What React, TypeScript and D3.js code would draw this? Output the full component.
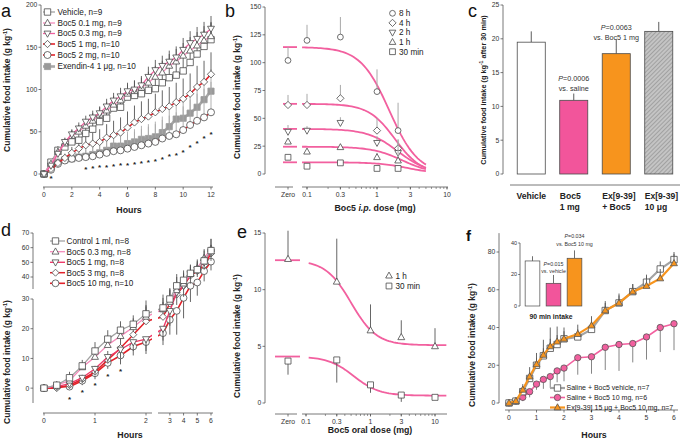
import React from 'react';
import * as d3 from 'd3';

const FONT = "'Liberation Sans', Arial, Helvetica, sans-serif";
const AX = '#555';
const MK = '#4a4a4a';
const ERR = '#555';
const LERR = '#a8a8a8';
const GRAY = '#a3a3a3';
const PINK = '#f2609f';
const LPINK = '#f48cbb';
const RED = '#e3222a';
const ORANGE = '#f7941d';

/* ---------------- panel a ---------------- */
const hoursA = [0, 0.5, 1, 1.5, 2, 2.5, 3, 3.5, 4, 4.5, 5, 5.5, 6, 6.5, 7, 7.5, 8, 8.5, 9, 9.5, 10, 10.5, 11, 11.5, 12];
const labelsA = ['Vehicle, n=9', 'Boc5 0.1 mg, n=9', 'Boc5 0.3 mg, n=9', 'Boc5 1 mg, n=10', 'Boc5 2 mg, n=10', 'Exendin-4 1 μg, n=10'];
const vehicleA = [0, 14, 28, 32, 38, 40, 48, 53, 62, 66, 78, 79, 91, 93, 95, 99, 101, 108, 114, 117, 122, 132, 142, 151, 159];
const vehicleErrA = [0, 3, 5, 6, 7, 7, 8, 8, 9, 10, 10, 11, 12, 12, 13, 13, 14, 15, 15, 16, 17, 17, 18, 19, 20];
const boc01A = [0, 12, 26, 36, 45, 50, 57, 63, 70, 75, 82, 87, 95, 98, 102, 108, 115, 120, 128, 133, 140, 146, 152, 158, 163];
const boc01ErrA = [0, 3, 5, 6, 7, 8, 8, 9, 9, 10, 10, 11, 11, 12, 12, 13, 13, 14, 14, 15, 15, 16, 16, 17, 17];
const boc03A = [0, 10, 24, 38, 47, 54, 62, 67, 72, 80, 87, 92, 98, 100, 105, 115, 123, 128, 133, 138, 147, 155, 160, 165, 172];
const boc03ErrA = [0, 3, 4, 5, 6, 7, 7, 8, 8, 9, 9, 10, 10, 11, 11, 12, 12, 12, 13, 13, 14, 14, 14, 15, 15];
const boc1A = [0, 6, 13, 19, 25, 30, 34, 36, 38, 43, 46, 49, 55, 61, 65, 68, 73, 77, 80, 85, 89, 95, 103, 109, 118];
const boc1ErrA = [0, 2, 4, 5, 7, 9, 11, 13, 15, 16, 17, 18, 19, 20, 21, 21, 22, 22, 23, 23, 24, 24, 25, 25, 26];
const boc2A = [0, 5, 12, 16, 18, 19, 20, 21, 23, 25, 27, 28, 30, 32, 34, 36, 38, 42, 45, 47, 52, 58, 63, 67, 73];
const boc2ErrA = [0, 2, 4, 6, 8, 10, 11, 12, 13, 14, 15, 16, 17, 18, 19, 20, 21, 22, 24, 26, 28, 30, 32, 34, 36];
const exA = [0, 8, 14, 17, 18, 20, 21, 23, 25, 28, 33, 33, 36, 38, 41, 42, 44, 49, 56, 65, 66, 72, 79, 88, 98];
const exErrA = [0, 2, 4, 5, 6, 7, 8, 9, 10, 11, 12, 13, 14, 15, 16, 17, 18, 19, 20, 21, 22, 23, 24, 25, 26];
const starHoursA = [0.5, 3, 3.5, 4, 4.5, 5, 5.5, 6, 6.5, 7, 7.5, 8, 8.5, 9, 9.5, 10, 10.5, 11, 11.5, 12];
const starYA = [-3, 7.5, 9, 9.5, 10, 11, 12, 13, 14, 15, 16, 17, 20, 23, 24, 28, 34, 38, 44, 49];
const yTicksA = [0, 50, 100, 150, 200];
const xTicksA = [0, 2, 4, 6, 8, 10, 12];

/* ---------------- panel b ---------------- */
const doseB = [0, 0.1, 0.3, 1, 2];
const labelsB = ['8 h', '4 h', '2 h', '1 h', '30 min'];
const h8B = [102, 120, 123, 74, 39];
const h8ErrB = [12, 14, 18, 20, 25];
const h4B = [62, 62, 68, 39, 23];
const h4ErrB = [9, 10, 12, 11, 8];
const h2B = [38, 39, 46, 28, 19];
const h2ErrB = [6, 4, 5, 6, 12];
const h1B = [29, 20, 24, 15, 12];
const h1ErrB = [3, 3, 3, 4, 10];
const m30B = [15, 7, 10, 5, 5];
const m30ErrB = [2, 2, 2, 2, 3];
const topB = [114, 63, 40.5, 24.5, 10.5];
const ic50B = [1.5, 1.8, 2.0, 2.3, 2.8];
const hillB = [2.1, 2.3, 2.0, 2.0, 2.0];
const yTicksB = [0, 25, 50, 75, 100, 125, 150];
const xTickVals = [0.1, 0.3, 1, 3, 10];
const xTickLabels = ['0.1', '0.3', '1', '3', '10'];

/* ---------------- panel c ---------------- */
const catsC = ['Vehicle', 'Boc5|1 mg', 'Ex[9-39]|+ Boc5', 'Ex[9-39]|10 μg'];
const valsC = [19.5, 10.9, 17.8, 21.1];
const errC = [1.6, 1.0, 2.1, 1.4];
const yTicksC = [0, 5, 10, 15, 20, 25];

/* ---------------- panel d ---------------- */
const hoursD = [0, 0.25, 0.5, 0.75, 1, 1.25, 1.5, 1.75, 2, 2.5, 3, 3.5, 4, 4.5, 5, 5.5, 6];
const labelsD = ['Control 1 ml, n=8', 'Boc5 0.3 mg, n=8', 'Boc5 1 mg, n=8', 'Boc5 3 mg, n=8', 'Boc5 10 mg, n=10'];
const controlD = [0, 1, 3.5, 7.5, 12.5, 16.5, 19.5, 21.5, 25, 27, 30, 36, 38.5, 42.5, 45, 51, 58];
const controlErrD = [0, 1, 2, 2, 3, 3, 3, 3, 4.5, 5, 5, 6, 6, 6, 6, 7, 8];
const boc03D = [0, 1, 2.5, 7, 10.5, 14.5, 17.5, 20.5, 24, 26.5, 29, 34, 37, 42, 46, 53, 59];
const boc03ErrD = [0, 1, 1, 1.5, 2.5, 3, 3, 3, 4, 4, 5, 6, 6, 6, 6, 6, 7];
const boc1D = [0, 0.5, 1.5, 3.5, 6.5, 10.5, 13, 15.5, 16.5, 20, 26, 33, 36, 42, 45, 50, 57];
const boc1ErrD = [0, 0.5, 1, 1.5, 2, 2, 3, 3, 4, 4, 5, 5, 5, 5, 5, 5, 6];
const boc3D = [0, 0, 1, 3, 5.5, 9.5, 13.5, 18, 22.5, 24, 28.5, 32, 36, 41, 44, 48, 56];
const boc3ErrD = [0, 0.5, 1, 1.5, 2, 3, 4, 4, 5, 5, 6, 6, 6, 6, 6, 6, 6];
const boc10D = [0, 0.5, 0.5, 2.5, 5, 8.5, 11, 14, 15.5, 18.5, 23, 26, 30.5, 36, 37.5, 44, 50.5];
const boc10ErrD = [0, 0.5, 1, 1.5, 2, 2, 3, 3, 4, 4, 5, 8, 7, 7, 6, 6, 6];
const starHoursD = [0.5, 0.75, 1, 1.25, 1.5];
const starYD = [-3, -0.8, 1.7, 4.5, 6.4];
const yTicksDLow = [0, 10, 20, 30];
const yTicksDHigh = [40, 50, 60, 70];
const xTicksDLeft = [0, 1, 2];
const xTicksDRight = [3, 4, 5, 6];

/* ---------------- panel e ---------------- */
const doseE = [0, 0.3, 1, 3, 10];
const labelsE = ['1 h', '30 min'];
const h1E = [12.7, 10.7, 6.4, 5.8, 5.0];
const h1ErrE = [2.5, 3.8, 2.3, 1.5, 1.6];
const m30E = [3.7, 3.8, 1.6, 0.7, 0.5];
const m30ErrE = [1.2, 2.0, 0.7, 0.6, 0.1];
const topE = [12.6, 4.1];
const bottomE = [5.1, 0.65];
const ic50E = [0.5, 0.55];
const hillE = [2.2, 2.2];
const yTicksE = [0, 5, 10, 15];

/* ---------------- panel f ---------------- */
const hoursF = [0, 0.25, 0.5, 0.75, 1, 1.25, 1.5, 1.75, 2, 2.5, 3, 3.5, 4, 4.5, 5, 5.5, 6];
const labelsF = ['Saline + Boc5 vehicle, n=7', 'Saline + Boc5 10 mg, n=6', 'Ex[9-39] 15 μg + Boc5 10 mg, n=7'];
const vehF = [0, 1, 6, 13, 20, 25, 29, 31, 34, 35, 39, 49, 53, 59, 64, 71, 76];
const vehErrF = [0, 0.5, 1.5, 3, 4, 4, 5, 5, 4, 4, 4, 4, 4, 4, 4, 4, 4];
const bocF = [0, 1, 3, 6, 10, 12.5, 14, 17, 18.5, 24, 24.5, 29.5, 31, 31.5, 35, 40, 42];
const bocErrF = [0, 1, 2, 3, 3, 5, 6, 6, 7, 9, 9, 12, 14, 10, 12, 13, 14];
const exF = [0, 1, 7, 14, 20.5, 25.5, 30, 32.5, 34, 36.5, 41, 49, 53, 59, 62, 66, 74];
const exErrF = [0, 1, 3, 5, 6, 8, 10, 8, 6, 5, 5, 5, 5, 4, 5, 5, 5];
const yTicksF = [0, 20, 40, 60, 80];
const xTicksF = [0, 1, 2, 3, 4, 5, 6];
const catsInset = ['vehicle', 'boc5', 'ex+boc5'];
const valsInset = [28.6, 14.4, 30.3];
const errInset = [3, 5.3, 5];
const yTicksInset = [0, 20, 40];

/* ---------------- helpers ---------------- */
type Mk = 'square' | 'circle' | 'tri' | 'tridown' | 'diamond';

function Marker({ t, x, y, r, fill = '#fff', stroke = MK, sw = 0.8 }: any) {
  if (t === 'circle') return <circle cx={x} cy={y} r={r} fill={fill} stroke={stroke} strokeWidth={sw} />;
  let d = '';
  if (t === 'square') d = `M${x - r},${y - r}h${2 * r}v${2 * r}h${-2 * r}Z`;
  if (t === 'tri') d = `M${x},${y - r * 1.25}L${x + r * 1.15},${y + r * 0.8}L${x - r * 1.15},${y + r * 0.8}Z`;
  if (t === 'tridown') d = `M${x},${y + r * 1.25}L${x + r * 1.15},${y - r * 0.8}L${x - r * 1.15},${y - r * 0.8}Z`;
  if (t === 'diamond') d = `M${x},${y - r * 1.25}L${x + r * 1.25},${y}L${x},${y + r * 1.25}L${x - r * 1.25},${y}Z`;
  return <path d={d} fill={fill} stroke={stroke} strokeWidth={sw} />;
}

function YAxis({ scale, x, ticks, top, bottom, fs = 6.8, len = 2.5 }: any) {
  return (
    <g>
      <line x1={x} x2={x} y1={top} y2={bottom} stroke={AX} strokeWidth={0.8} />
      {ticks.map((t: number) => (
        <g key={t}>
          <line x1={x - len} x2={x} y1={scale(t)} y2={scale(t)} stroke={AX} strokeWidth={0.8} />
          <text x={x - len - 1.2} y={scale(t)} dy="0.35em" textAnchor="end" fontSize={fs} fill="#333">{t}</text>
        </g>
      ))}
    </g>
  );
}

function XTicks({ scale, y, ticks, labels, fs = 6.8, len = 2.5 }: any) {
  return (
    <g>
      {ticks.map((t: number, i: number) => (
        <g key={t}>
          <line x1={scale(t)} x2={scale(t)} y1={y} y2={y + len} stroke={AX} strokeWidth={0.8} />
          <text x={scale(t)} y={y + len + 7.5} textAnchor="middle" fontSize={fs} fill="#333">{labels ? labels[i] : t}</text>
        </g>
      ))}
    </g>
  );
}

function YLabel({ x, y, text, fs = 8.5 }: any) {
  return (
    <text transform={`translate(${x},${y}) rotate(-90)`} textAnchor="middle" fontSize={fs} fontWeight="bold" fill="#222">
      {text}
    </text>
  );
}

function Star({ x, y }: any) {
  return <text x={x} y={y + 4.5} textAnchor="middle" fontSize={8} fontWeight="bold" fill="#222">*</text>;
}

function SeriesLayer({ xs, sx, sy, s }: any) {
  const line = d3.line<number>().x((_, i) => sx(xs[i])).y((v) => sy(v));
  return (
    <g>
      {s.values.map((v: number, i: number) =>
        s.err[i] > 0 ? (
          <line key={'e' + i} x1={sx(xs[i])} x2={sx(xs[i])} y1={sy(v)} y2={sy(v + s.dir * s.err[i])} stroke={s.errColor} strokeWidth={0.9} />
        ) : null
      )}
      <path d={line(s.values) || ''} fill="none" stroke={s.color} strokeWidth={s.lw} />
      {s.values.map((v: number, i: number) => (
        <Marker key={'m' + i} t={s.marker} x={sx(xs[i])} y={sy(v)} r={s.r} fill={s.fill} stroke={s.stroke || MK} />
      ))}
    </g>
  );
}

function LegendRow({ x0, x1, mx, tx, y, s, label, fs }: any) {
  return (
    <g>
      <line x1={x0} x2={x1} y1={y} y2={y} stroke={s.color} strokeWidth={s.lw} />
      <Marker t={s.marker} x={mx} y={y} r={s.r} fill={s.fill} stroke={s.stroke || MK} />
      <text x={tx} y={y} dy="0.35em" fontSize={fs} fill="#222">{label}</text>
    </g>
  );
}

const sigmoid = (d: number, top: number, bottom: number, ic: number, h: number) =>
  bottom + (top - bottom) / (1 + Math.pow(d / ic, h));

/* ---------------- panels ---------------- */
function PanelA() {
  const x = d3.scaleLinear().domain([0, 12]).range([44, 211]);
  const y = d3.scaleLinear().domain([0, 200]).range([174, 5]);
  const series = [
    { values: exA, err: exErrA, dir: 1, marker: 'square', color: '#a9a9a9', lw: 2.6, fill: '#9a9a9a', stroke: '#9a9a9a', r: 3.1, errColor: LERR },
    { values: boc2A, err: boc2ErrA, dir: 1, marker: 'circle', color: RED, lw: 1.6, fill: '#fff', r: 3.5, errColor: LERR },
    { values: boc1A, err: boc1ErrA, dir: 1, marker: 'diamond', color: RED, lw: 1.6, fill: '#fff', r: 2.9, errColor: ERR },
    { values: vehicleA, err: vehicleErrA, dir: 1, marker: 'square', color: GRAY, lw: 1.3, fill: '#fff', r: 3.2, errColor: ERR },
    { values: boc01A, err: boc01ErrA, dir: 1, marker: 'tri', color: LPINK, lw: 1.3, fill: '#fff', r: 3.0, errColor: ERR },
    { values: boc03A, err: boc03ErrA, dir: 1, marker: 'tridown', color: PINK, lw: 1.3, fill: '#fff', r: 3.0, errColor: ERR },
  ];
  const legendOrder = [3, 4, 5, 2, 1, 0];
  const rowsY = [12, 23, 33.5, 44, 55, 66.5];
  return (
    <g>
      <text x={1} y={17} fontSize={18} fill="#111">a</text>
      <YAxis scale={y} x={41} ticks={yTicksA} top={y(200)} bottom={y(0)} />
      <line x1={43} x2={213} y1={187} y2={187} stroke={AX} strokeWidth={0.8} />
      <XTicks scale={x} y={187} ticks={xTicksA} />
      {series.map((s, i) => <SeriesLayer key={i} xs={hoursA} sx={x} sy={y} s={s} />)}
      {starHoursA.map((h, i) => <Star key={i} x={x(h)} y={y(starYA[i])} />)}
      {legendOrder.map((si, i) => (
        <LegendRow key={i} x0={43} x1={55} mx={47.5} tx={57.5} y={rowsY[i]} s={series[si]} label={labelsA[i]} fs={8.2} />
      ))}
      <text x={129} y={213} textAnchor="middle" fontSize={8.8} fontWeight="bold" fill="#222">Hours</text>
      <YLabel x={10} y={90} text={<>Cumulative food intake (g kg<tspan dy={-3} fontSize={5.5}>-1</tspan><tspan dy={3}>)</tspan></>} />
    </g>
  );
}

function PanelB() {
  const xl = d3.scaleLog().domain([0.1, 10]).range([307, 447]);
  const zeroX = 288;
  const px = (d: number) => (d === 0 ? zeroX : xl(d));
  const y = d3.scaleLinear().domain([0, 150]).range([174, 7]);
  const data = [h8B, h4B, h2B, h1B, m30B];
  const errs = [h8ErrB, h4ErrB, h2ErrB, h1ErrB, m30ErrB];
  const markers: Mk[] = ['circle', 'diamond', 'tridown', 'tri', 'square'];
  const doses = d3.range(0, 61).map((i) => 0.085 * Math.pow(5 / 0.085, i / 60));
  return (
    <g>
      <text x={225} y={17} fontSize={18} fill="#111">b</text>
      <YAxis scale={y} x={265} ticks={yTicksB} top={y(150)} bottom={y(0)} />
      <line x1={275} x2={293} y1={187} y2={187} stroke={AX} strokeWidth={0.8} />
      <line x1={302} x2={448} y1={187} y2={187} stroke={AX} strokeWidth={0.8} />
      <line x1={zeroX} x2={zeroX} y1={187} y2={189.5} stroke={AX} strokeWidth={0.8} />
      <text x={zeroX} y={197} textAnchor="middle" fontSize={6.8} fill="#333">Zero</text>
      {xl.ticks().map((t, i) => (
        <line key={i} x1={xl(t)} x2={xl(t)} y1={187} y2={189} stroke={AX} strokeWidth={0.6} />
      ))}
      <XTicks scale={xl} y={187} ticks={xTickVals} labels={xTickLabels} />
      {topB.map((top, k) => {
        const pts = doses.map((d) => [xl(d), y(sigmoid(d, top, 0, ic50B[k], hillB[k]))] as [number, number]);
        return (
          <g key={k}>
            <line x1={283} x2={297} y1={y(top)} y2={y(top)} stroke={PINK} strokeWidth={1.8} />
            <path d={d3.line()(pts) || ''} fill="none" stroke={PINK} strokeWidth={1.8} />
          </g>
        );
      })}
      {data.map((vals, k) =>
        vals.map((v, i) => (
          <g key={k + '-' + i}>
            <line x1={px(doseB[i])} x2={px(doseB[i])} y1={y(v)} y2={y(v + errs[k][i])} stroke={LERR} strokeWidth={1} />
            <Marker t={markers[k]} x={px(doseB[i])} y={y(v)} r={2.9} />
          </g>
        ))
      )}
      {labelsB.map((l, i) => (
        <g key={i}>
          <Marker t={markers[i]} x={392.5} y={13.3 + i * 9.6} r={2.9} />
          <text x={399} y={13.3 + i * 9.6} dy="0.35em" fontSize={8.2} fill="#222">{l}</text>
        </g>
      ))}
      <text x={375} y={211} textAnchor="middle" fontSize={8.8} fontWeight="bold" fill="#222">
        Boc5 <tspan fontStyle="italic">i.p.</tspan> dose (mg)
      </text>
      <YLabel x={240} y={97} text={<>Cumulative food intake (g kg<tspan dy={-3} fontSize={5.5}>-1</tspan><tspan dy={3}>)</tspan></>} />
    </g>
  );
}

function PanelC() {
  const x = d3.scaleBand().domain(catsC).range([510, 680]).paddingInner(0.34).paddingOuter(0.17);
  const y = d3.scaleLinear().domain([0, 25]).range([174, 5]);
  const fills = ['#fff', '#f2559b', ORANGE, 'url(#hatch)'];
  return (
    <g>
      <defs>
        <pattern id="hatch" width="3" height="3" patternUnits="userSpaceOnUse" patternTransform="rotate(45)">
          <rect width="3" height="3" fill="#c4c4c4" />
          <line x1="0" y1="0" x2="0" y2="3" stroke="#8a8a8a" strokeWidth="1.2" />
        </pattern>
      </defs>
      <text x={468} y={17} fontSize={18} fill="#111">c</text>
      <YAxis scale={y} x={503} ticks={yTicksC} top={y(25)} bottom={y(0)} />
      <line x1={510} x2={680} y1={185} y2={185} stroke={AX} strokeWidth={0.8} />
      {catsC.map((c, i) => {
        const bx = x(c) as number;
        const bw = x.bandwidth();
        const cx = bx + bw / 2;
        const parts = c.split('|');
        return (
          <g key={c}>
            <line x1={cx} x2={cx} y1={y(valsC[i])} y2={y(valsC[i] + errC[i])} stroke={MK} strokeWidth={0.9} />
            <rect x={bx} y={y(valsC[i])} width={bw} height={y(0) - y(valsC[i])} fill={fills[i]} stroke={MK} strokeWidth={0.8} />
            {parts.map((p, j) => (
              <text key={j} x={parts.length > 1 ? bx : cx} y={199 + j * 10.5} textAnchor={parts.length > 1 ? 'start' : 'middle'} fontSize={8.6} fontWeight="bold" fill="#222">{p}</text>
            ))}
          </g>
        );
      })}
      <text x={(x('Boc5|1 mg') as number) + x.bandwidth() / 2} y={81} textAnchor="middle" fontSize={7.2} fill="#333"><tspan fontStyle="italic">P</tspan>=0.0006</text>
      <text x={(x('Boc5|1 mg') as number) + x.bandwidth() / 2} y={91} textAnchor="middle" fontSize={7.2} fill="#333">vs. saline</text>
      <text x={(x('Ex[9-39]|+ Boc5') as number) + x.bandwidth() / 2} y={30} textAnchor="middle" fontSize={7.2} fill="#333"><tspan fontStyle="italic">P</tspan>=0.0063</text>
      <text x={(x('Ex[9-39]|+ Boc5') as number) + x.bandwidth() / 2} y={40} textAnchor="middle" fontSize={7.2} fill="#333">vs. Boc5 1 mg</text>
      <YLabel x={486} y={90} fs={7.3} text={<>Cumulative food intake (g kg<tspan dy={-3} fontSize={5}>-1</tspan><tspan dy={3}> after 30 min)</tspan></>} />
    </g>
  );
}

function PanelD() {
  const x = d3.scaleLinear().domain([0, 2, 2.5, 6]).range([44, 146, 163, 211]);
  const y = d3.scaleLinear().domain([-5, 30, 40, 70]).range([403, 299, 277, 233]);
  const series = [
    { values: boc10D, err: boc10ErrD, dir: -1, marker: 'circle', color: RED, lw: 1.6, fill: '#fff', r: 3.4, errColor: ERR },
    { values: boc3D, err: boc3ErrD, dir: 1, marker: 'diamond', color: RED, lw: 1.5, fill: '#fff', r: 2.8, errColor: ERR },
    { values: boc1D, err: boc1ErrD, dir: -1, marker: 'tridown', color: '#ee3b6a', lw: 1.4, fill: '#fff', r: 3.0, errColor: ERR },
    { values: boc03D, err: boc03ErrD, dir: 1, marker: 'tri', color: LPINK, lw: 1.3, fill: '#fff', r: 3.0, errColor: ERR },
    { values: controlD, err: controlErrD, dir: 1, marker: 'square', color: GRAY, lw: 1.3, fill: '#fff', r: 3.2, errColor: ERR },
  ];
  const legendOrder = [4, 3, 2, 1, 0];
  const rowsY = [241, 251.7, 262.3, 272.7, 283.3];
  return (
    <g>
      <defs>
        <clipPath id="clipD">
          <rect x={30} y={220} width={122} height={200} />
          <rect x={158} y={220} width={60} height={200} />
        </clipPath>
      </defs>
      <text x={1} y={236} fontSize={18} fill="#111">d</text>
      <YAxis scale={y} x={33} ticks={yTicksDLow} top={y(30)} bottom={y(-5)} />
      <YAxis scale={y} x={33} ticks={yTicksDHigh} top={y(70)} bottom={289} />
      <line x1={43} x2={152} y1={413} y2={413} stroke={AX} strokeWidth={0.8} />
      <line x1={158} x2={213} y1={413} y2={413} stroke={AX} strokeWidth={0.8} />
      <XTicks scale={x} y={413} ticks={xTicksDLeft} />
      <XTicks scale={x} y={413} ticks={xTicksDRight} />
      <g clipPath="url(#clipD)">
        {series.map((s, i) => <SeriesLayer key={i} xs={hoursD} sx={x} sy={y} s={s} />)}
      </g>
      {starHoursD.map((h, i) => <Star key={i} x={x(h)} y={y(starYD[i])} />)}
      {legendOrder.map((si, i) => (
        <LegendRow key={i} x0={50} x1={65} mx={55.5} tx={66.5} y={rowsY[i]} s={series[si]} label={labelsD[i]} fs={8.2} />
      ))}
      <text x={130} y={438} textAnchor="middle" fontSize={8.8} fontWeight="bold" fill="#222">Hours</text>
      <YLabel x={10} y={362} text={<>Cumulative food intake (g kg<tspan dy={-3} fontSize={5.5}>-1</tspan><tspan dy={3}>)</tspan></>} />
    </g>
  );
}

function PanelE() {
  const xl = d3.scaleLog().domain([0.1, 10]).range([306, 435]);
  const zeroX = 288;
  const px = (d: number) => (d === 0 ? zeroX : xl(d));
  const y = d3.scaleLinear().domain([0, 15]).range([403, 233]);
  const data = [h1E, m30E];
  const errs = [h1ErrE, m30ErrE];
  const dirs = [1, -1];
  const markers: Mk[] = ['tri', 'square'];
  const doses = d3.range(0, 61).map((i) => 0.11 * Math.pow(15 / 0.11, i / 60));
  return (
    <g>
      <text x={237} y={238} fontSize={18} fill="#111">e</text>
      <YAxis scale={y} x={265} ticks={yTicksE} top={y(15)} bottom={y(0)} />
      <line x1={275} x2={297} y1={414} y2={414} stroke={AX} strokeWidth={0.8} />
      <line x1={302} x2={447} y1={414} y2={414} stroke={AX} strokeWidth={0.8} />
      <line x1={zeroX} x2={zeroX} y1={414} y2={416.5} stroke={AX} strokeWidth={0.8} />
      <text x={zeroX} y={424} textAnchor="middle" fontSize={6.8} fill="#333">Zero</text>
      {d3.scaleLog().domain([0.1, 15]).ticks().map((t, i) => (
        <line key={i} x1={xl(t)} x2={xl(t)} y1={414} y2={416} stroke={AX} strokeWidth={0.6} />
      ))}
      <XTicks scale={xl} y={414} ticks={xTickVals} labels={xTickLabels} />
      {topE.map((top, k) => {
        const pts = doses.map((d) => [xl(d), y(sigmoid(d, top, bottomE[k], ic50E[k], hillE[k]))] as [number, number]);
        return (
          <g key={k}>
            <line x1={275} x2={300} y1={y(top)} y2={y(top)} stroke={PINK} strokeWidth={1.8} />
            <path d={d3.line()(pts) || ''} fill="none" stroke={PINK} strokeWidth={1.8} />
          </g>
        );
      })}
      {data.map((vals, k) =>
        vals.map((v, i) => (
          <g key={k + '-' + i}>
            <line x1={px(doseE[i])} x2={px(doseE[i])} y1={y(v)} y2={y(v + dirs[k] * errs[k][i])} stroke={ERR} strokeWidth={0.9} />
            <Marker t={markers[k]} x={px(doseE[i])} y={y(v)} r={3} />
          </g>
        ))
      )}
      {labelsE.map((l, i) => (
        <g key={i}>
          <Marker t={markers[i]} x={389} y={275.7 + i * 10.3} r={2.9} />
          <text x={395.5} y={275.7 + i * 10.3} dy="0.35em" fontSize={8.2} fill="#222">{l}</text>
        </g>
      ))}
      <text x={370} y={433} textAnchor="middle" fontSize={8.8} fontWeight="bold" fill="#222">Boc5 oral dose (mg)</text>
      <YLabel x={240} y={336} text={<>Cumulative food intake (g kg<tspan dy={-3} fontSize={5.5}>-1</tspan><tspan dy={3}>)</tspan></>} />
    </g>
  );
}

function PanelF() {
  const x = d3.scaleLinear().domain([0, 6]).range([509, 674]);
  const y = d3.scaleLinear().domain([0, 80]).range([403, 252]);
  const series = [
    { values: bocF, err: bocErrF, dir: -1, marker: 'circle', color: PINK, lw: 1.6, fill: PINK, stroke: '#555', r: 3.2, errColor: '#777' },
    { values: vehF, err: vehErrF, dir: 1, marker: 'square', color: GRAY, lw: 2.2, fill: '#fff', r: 3.2, errColor: ERR },
    { values: exF, err: exErrF, dir: 1, marker: 'tri', color: ORANGE, lw: 2.2, fill: ORANGE, stroke: '#555', r: 3.0, errColor: ERR },
  ];
  const legendOrder = [1, 0, 2];
  const rowsY = [388, 397.5, 407.5];
  const xi = d3.scaleBand().domain(catsInset).range([522, 585]).paddingInner(0.3).paddingOuter(0.15);
  const yi = d3.scaleLinear().domain([0, 40]).range([306, 243]);
  const fills = ['#fff', '#f2559b', ORANGE];
  const cx = (c: string) => (xi(c) as number) + xi.bandwidth() / 2;
  return (
    <g>
      <text x={466} y={241} fontSize={15} fontWeight="bold" fill="#111">f</text>
      <YAxis scale={y} x={499} ticks={yTicksF} top={y(90)} bottom={y(0)} />
      <line x1={505} x2={678} y1={410} y2={410} stroke={AX} strokeWidth={0.8} />
      <XTicks scale={x} y={410} ticks={xTicksF} />
      {series.map((s, i) => <SeriesLayer key={i} xs={hoursF} sx={x} sy={y} s={s} />)}
      {legendOrder.map((si, i) => (
        <LegendRow key={i} x0={550} x1={565} mx={557.5} tx={566.5} y={rowsY[i]} s={series[si]} label={labelsF[i]} fs={7.0} />
      ))}
      {/* inset */}
      <YAxis scale={yi} x={520} ticks={yTicksInset} top={yi(40)} bottom={yi(0)} fs={5.5} len={1.8} />
      {catsInset.map((c, i) => (
        <g key={c}>
          <line x1={cx(c)} x2={cx(c)} y1={yi(valsInset[i])} y2={yi(valsInset[i] + errInset[i])} stroke={MK} strokeWidth={0.8} />
          <rect x={xi(c)} y={yi(valsInset[i])} width={xi.bandwidth()} height={yi(0) - yi(valsInset[i])} fill={fills[i]} stroke={MK} strokeWidth={0.7} />
        </g>
      ))}
      <text x={cx('boc5')} y={266} textAnchor="middle" fontSize={5.3} fill="#333"><tspan fontStyle="italic">P</tspan>=0.015</text>
      <text x={cx('boc5')} y={273} textAnchor="middle" fontSize={5.3} fill="#333">vs. vehicle</text>
      <text x={cx('ex+boc5')} y={238} textAnchor="middle" fontSize={5.3} fill="#333"><tspan fontStyle="italic">P</tspan>=0.034</text>
      <text x={cx('ex+boc5')} y={246} textAnchor="middle" fontSize={5.3} fill="#333">vs. Boc5 10 mg</text>
      <text x={551} y={319} textAnchor="middle" fontSize={6.8} fontWeight="bold" fill="#222">90 min intake</text>
      <text x={594} y={438} textAnchor="middle" fontSize={8.8} fontWeight="bold" fill="#222">Hours</text>
      <YLabel x={475} y={345} text={<>Cumulative food intake (g kg<tspan dy={-3} fontSize={5.5}>-1</tspan><tspan dy={3}>)</tspan></>} />
    </g>
  );
}

export default function App() {
  return (
    <svg width={680} height={442} viewBox="0 0 680 442" style={{ position: 'absolute', left: 0, top: 0, background: '#fff' }} fontFamily={FONT}>
      <rect width={680} height={442} fill="#fff" />
      <PanelA />
      <PanelB />
      <PanelC />
      <PanelD />
      <PanelE />
      <PanelF />
    </svg>
  );
}
